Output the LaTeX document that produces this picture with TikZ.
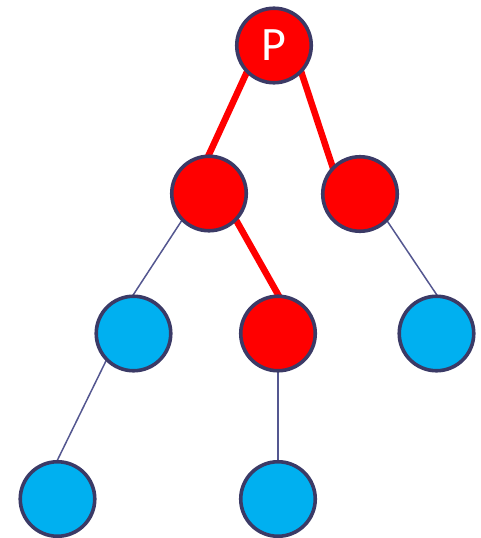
\documentclass[tikz,border=0pt]{standalone}
\usepackage{fontspec}
\setmainfont{Carlito}
\usetikzlibrary{backgrounds}
\definecolor{nodered}{HTML}{FF0000}
\definecolor{nodeblue}{HTML}{00B0F0}
\definecolor{ringcol}{HTML}{3B3A66}
\definecolor{linkcol}{HTML}{545790}
\tikzset{
  treenode/.style={circle, draw=ringcol, line width=3.6pt, minimum size=74.5pt, inner sep=0pt},
  rednode/.style={treenode, fill=nodered},
  bluenode/.style={treenode, fill=nodeblue},
  pathlink/.style={draw=nodered, line width=6.5pt, shorten <=-2pt, shorten >=-2pt},
  link/.style={draw=linkcol, line width=1.5pt, shorten <=-1pt, shorten >=-1pt}
}
\begin{document}
\begin{tikzpicture}[x=1pt, y=-1pt]
  \useasboundingbox (0,0) rectangle (481,538);
  % level 1
  \node[rednode, text=white, font=\fontsize{48}{48}\selectfont] (p) at (274,45.5) {P};
  % level 2
  \node[rednode] (l) at (209,193.5) {};
  \node[rednode] (r) at (360,194) {};
  % level 3
  \node[bluenode] (ll) at (133.5,333.5) {};
  \node[rednode] (lr) at (278,333.5) {};
  \node[bluenode] (rr) at (436.5,333.5) {};
  % level 4
  \node[bluenode] (lll) at (57.5,499) {};
  \node[bluenode] (lrl) at (278,499) {};
  % connectors
  \begin{pgfonlayer}{background}
    \draw[pathlink] (p.south west) -- (l.north);
    \draw[pathlink] (p.south east) -- (r.north west);
    \draw[pathlink] (l.south east) -- (lr.north);
    \draw[link] (l.south west) -- (ll.north);
    \draw[link] (r.south east) -- (rr.north);
    \draw[link] (ll.south west) -- (lll.north);
    \draw[link] (lr.south) -- (lrl.north);
  \end{pgfonlayer}
\end{tikzpicture}
\end{document}
